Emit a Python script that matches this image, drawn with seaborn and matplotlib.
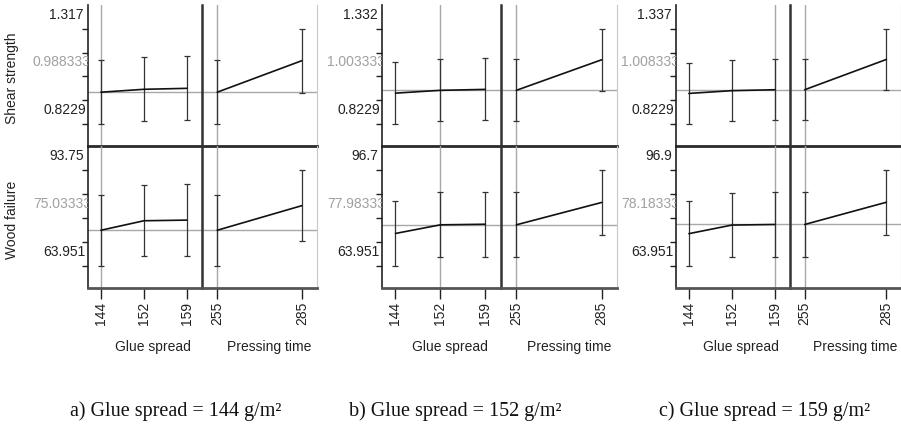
import numpy as np
import pandas as pd
import matplotlib
matplotlib.use("Agg")
import matplotlib.pyplot as plt
import seaborn as sns
from matplotlib.transforms import ScaledTranslation, blended_transform_factory
from matplotlib.patches import Rectangle

# ---------------- data ----------------
glue_levels = ["144", "152", "159"]
press_levels = ["255", "285"]
panel_glue = ["144", "152", "159"]      # current glue spread of each panel
panel_press = "255"                      # current pressing time
captions = ["a) Glue spread = 144 g/m\u00b2",
            "b) Glue spread = 152 g/m\u00b2",
            "c) Glue spread = 159 g/m\u00b2"]
row_titles = ["Shear strength", "Wood failure"]

shear_glue_mean = [0.9883, 1.0033, 1.0083]
shear_glue_lo = [0.8229, 0.8379, 0.8429]
shear_glue_hi = [1.1538, 1.1688, 1.1738]
shear_press_mean = [[0.9883, 1.1516], [1.0033, 1.1666], [1.0083, 1.1716]]
shear_press_lo = [[0.8229, 0.9862], [0.8379, 1.0012], [0.8429, 1.0062]]
shear_press_hi = [[1.1538, 1.317], [1.1688, 1.332], [1.1738, 1.337]]

wood_glue_mean = [75.033, 77.983, 78.183]
wood_glue_lo = [63.951, 66.901, 67.101]
wood_glue_hi = [86.115, 89.065, 89.265]
wood_press_mean = [[75.033, 82.668], [77.983, 85.618], [78.183, 85.818]]
wood_press_lo = [[63.951, 71.586], [66.901, 74.536], [67.101, 74.736]]
wood_press_hi = [[86.115, 93.75], [89.065, 96.70], [89.265, 96.90]]

shear_max_labels = ["1.317", "1.332", "1.337"]
shear_cur_labels = ["0.988333", "1.003333", "1.008333"]
shear_min_labels = ["0.8229", "0.8229", "0.8229"]
wood_max_labels = ["93.75", "96.7", "96.9"]
wood_cur_labels = ["75.03333", "77.98333", "78.18333"]
wood_min_labels = ["63.951", "63.951", "63.951"]

# ---------------- style ----------------
sns.set_theme(style="white")
plt.rcParams["font.family"] = ["Liberation Sans", "DejaVu Sans"]

W, H = 901, 424
fig = plt.figure(figsize=(W / 100, H / 100), dpi=100)
fig.patch.set_facecolor("white")

# layout in pixels: (left spine, separator, right edge)
panel_x = [(88, 202, 317), (382, 501, 617), (676, 790, 901)]
row_y = [(5, 146), (146, 288)]   # (top, bottom) pixels

DARK = "#222222"
GREY = "#a8a8a8"

def fx(px):
    return px / W

def fy(py):
    return 1 - py / H

def off(dx, dy):
    return ScaledTranslation(dx / 100, dy / 100, fig.dpi_scale_trans)

rows = [
    (shear_glue_mean, shear_glue_lo, shear_glue_hi, shear_press_mean, shear_press_lo,
     shear_press_hi, shear_max_labels, shear_cur_labels, shear_min_labels),
    (wood_glue_mean, wood_glue_lo, wood_glue_hi, wood_press_mean, wood_press_lo,
     wood_press_hi, wood_max_labels, wood_cur_labels, wood_min_labels),
]

for p in range(3):
    x0, xs, x1 = panel_x[p]
    for r, row in enumerate(rows):
        gm, glo, ghi, pm, plo, phi, maxl, curl, minl = row
        pm, plo, phi = pm[p], plo[p], phi[p]
        top, bot = row_y[r]
        yb, hh = fy(bot), (bot - top) / H
        axg = fig.add_axes([fx(x0), yb, fx(xs - x0), hh])
        axp = fig.add_axes([fx(xs), yb, fx(x1 - xs), hh])

        vmin = min(min(glo), min(plo))
        vmax = max(max(ghi), max(phi))
        rng = vmax - vmin
        cur = gm[glue_levels.index(panel_glue[p])]

        for ax, levels, m, lo, hi, curlev, xl in (
                (axg, glue_levels, gm, glo, ghi, panel_glue[p], (-0.30, 2.35)),
                (axp, press_levels, pm, plo, phi, panel_press, (-0.18, 1.18))):
            m = np.asarray(m); lo = np.asarray(lo); hi = np.asarray(hi)
            ax.errorbar(levels, m, yerr=[m - lo, hi - m], fmt="none", ecolor="#333333",
                        elinewidth=0.9, capsize=2.5, capthick=0.9, zorder=3)
            df = pd.DataFrame({"level": levels, "mean": m})
            sns.lineplot(data=df, x="level", y="mean", ax=ax, color="#111111",
                         lw=1.2, sort=False, zorder=4)
            ax.axvline(levels.index(curlev), color=GREY, lw=1.0, zorder=1)
            ax.axhline(cur, color=GREY, lw=1.0, zorder=1)
            ax.set_xlim(*xl)
            ax.set_ylim(vmin - 0.23 * rng, vmax + 0.25 * rng)
            ax.set_xlabel("")
            ax.set_ylabel("")
            ax.set_facecolor("none")
            ax.grid(False)
            ax.spines["top"].set_visible(False)
            if r == 0:
                ax.spines["bottom"].set_color("#2a2a2a")
                ax.spines["bottom"].set_linewidth(2.0)
                ax.spines["bottom"].set_zorder(10)
                ax.tick_params(axis="x", bottom=False, labelbottom=False)
            else:
                ax.spines["bottom"].set_color("#555555")
                ax.spines["bottom"].set_linewidth(2.0)
                ax.set_xticks(range(len(levels)))
                ax.set_xticklabels(levels)
                ax.tick_params(axis="x", bottom=True, length=8, width=1, color=DARK,
                               labelrotation=90, labelsize=10, labelcolor=DARK, pad=2)

        # glue axis: left spine + ticks
        axg.spines["right"].set_visible(False)
        axg.spines["left"].set_color(DARK)
        axg.spines["left"].set_linewidth(1.2)
        axg.set_yticks(np.linspace(vmin, vmax, 5))
        axg.tick_params(axis="y", left=True, length=4, width=1, color=DARK, labelleft=False)
        axp.set_yticks([])
        axp.spines["left"].set_color("#333333")
        axp.spines["left"].set_linewidth(1.8)
        axp.spines["right"].set_color("#c8c8c8")
        axp.spines["right"].set_linewidth(0.8)

        # y labels (JMP style: max, current, min)
        tr = blended_transform_factory(axg.transAxes, axg.transData)
        axg.text(0, vmax, maxl[p], transform=tr + off(-4, 14), ha="right",
                 va="center", fontsize=10, color=DARK)
        axg.text(0, vmin, minl[p], transform=tr + off(-2, 14), ha="right",
                 va="center", fontsize=10, color=DARK)
        t = axg.text(0, (vmin + vmax) / 2, curl[p], transform=tr + off(-55, 14),
                     ha="left", va="center", fontsize=10, color="#a0a0a0")
        clip = Rectangle((0, 0), fx(x0), 1, transform=fig.transFigure)
        t.set_clip_path(clip)
        t.set_clip_on(True)

        if p == 0:
            fig.text(fx(12), fy((top + bot) / 2 + 3), row_titles[r], rotation=90,
                     ha="center", va="center", fontsize=10, color=DARK)

        if r == 1:
            axg.text(0.5, 0, "Glue spread", transform=axg.transAxes + off(8, -59),
                     ha="center", va="center", fontsize=10, color=DARK)
            axp.text(0.5, 0, "Pressing time", transform=axp.transAxes + off(10, -59),
                     ha="center", va="center", fontsize=10, color=DARK)

cap_x = [176, 455, 765]
for cx, cap in zip(cap_x, captions):
    fig.text(fx(cx), fy(411), cap, ha="center", va="center", fontsize=14.5,
             family=["Liberation Serif", "DejaVu Serif"], color="#111111")

fig.savefig("out.png", dpi=100, facecolor="white")
